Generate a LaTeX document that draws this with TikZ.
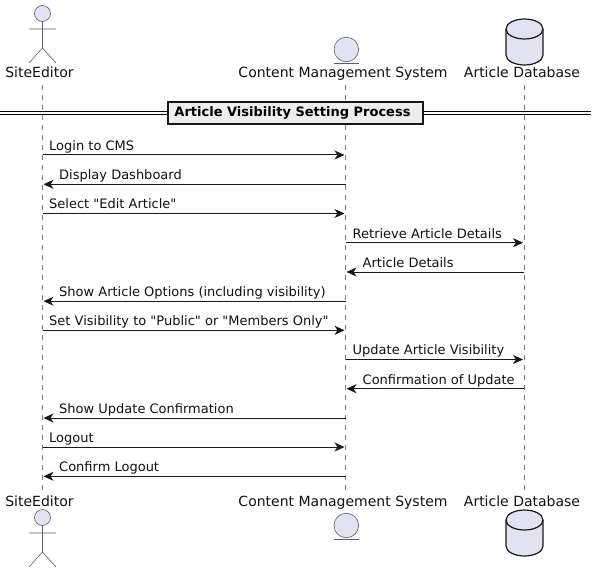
\documentclass[tikz,border=0pt]{standalone}
\usepackage{fontspec}
\setmainfont{DejaVu Sans}[Ligatures=TeXOff]
\usetikzlibrary{arrows.meta}
\definecolor{partfill}{HTML}{E2E2F0}
\definecolor{partline}{HTML}{181818}
\definecolor{lifeline}{HTML}{7A7A7A}
\definecolor{titlefill}{HTML}{EEEEEE}
\definecolor{txt}{HTML}{111111}
\tikzset{
  lbl/.style={inner sep=0pt,text=txt,font=\fontsize{13bp}{15bp}\selectfont},
  partlbl/.style={inner sep=0pt,text=txt,font=\fontsize{14bp}{16bp}\selectfont,anchor=base},
  msglbl/.style={lbl,anchor=base west},
  msg/.style={draw=partline,line width=1bp,-{Stealth[length=10bp,width=9bp,inset=3bp]},shorten >=1bp},
  life/.style={draw=lifeline,line width=.6bp,dash pattern=on 5bp off 5bp},
  thin part/.style={draw=partline!70!white,line width=.6bp,fill=partfill},
  dbpart/.style={draw=partline,line width=1.2bp,fill=partfill},
  titlebox/.style={draw=partline,line width=2bp,fill=titlefill,minimum width=255bp,minimum height=22.5bp,inner sep=0pt,text=black,font=\bfseries\fontsize{13bp}{15bp}\selectfont},
  dline/.style={draw=black,line width=1bp},
}
\newcommand{\actorfig}[2]{%
  \draw[thin part] (#1,#2+13.5) circle[radius=8];
  \draw[draw=partline!70!white,line width=.6bp] (#1,#2+21.5) -- (#1,#2+48) (#1-13.5,#2+29) -- (#1+13.5,#2+29)
    (#1-13.5,#2+63) -- (#1,#2+48) -- (#1+13.5,#2+63);}
\newcommand{\entityfig}[2]{%
  \draw[thin part] (#1,#2+49.5) circle[radius=12.3];
  \draw[draw=partline!70!white,line width=.6bp] (#1-12.5,#2+63) -- (#1+12.5,#2+63);}
\newcommand{\dbfig}[2]{%
  \draw[dbpart] (#1-18.5,#2+29) arc[start angle=180,end angle=360,x radius=18.5,y radius=10]
     -- (#1+18.5,#2+55) arc[start angle=0,end angle=180,x radius=18.5,y radius=10] -- cycle;
  \draw[dbpart,fill=none] (#1-18.5,#2+29) arc[start angle=180,end angle=0,x radius=18.5,y radius=10];}
\begin{document}
\begin{tikzpicture}[x=1bp,y=-1bp]
\useasboundingbox (0,0) rectangle (596,573);
\fill[white] (0,0) rectangle (596,573);
% lifelines
\coordinate (aTop) at (42.5,85); \coordinate (aBot) at (42.5,491);
\coordinate (cTop) at (345.5,85); \coordinate (cBot) at (345.5,491);
\coordinate (dTop) at (524,85); \coordinate (dBot) at (524,491);
\draw[life] (aTop) -- (aBot);
\draw[life] (cTop) -- (cBot);
\draw[life] (dTop) -- (dBot);
% participants
\actorfig{42.5}{0}
\actorfig{42.5}{504}
\entityfig{346.3}{0}
\entityfig{346.3}{476}
\dbfig{524.5}{0}
\dbfig{524.5}{491}
\node[partlbl] (aT) at (39.5,78) {SiteEditor};
\node[partlbl] (cT) at (343,78) {Content Management System};
\node[partlbl] (dT) at (522,78) {Article Database};
\node[partlbl] (aB) at (39.5,506) {SiteEditor};
\node[partlbl] (cB) at (343,506) {Content Management System};
\node[partlbl] (dB) at (522,506) {Article Database};
% divider
\coordinate (divL) at (0,112.8); \coordinate (divR) at (591,112.8);
\draw[dline] ([yshift=-1.5bp]divL) -- ([yshift=-1.5bp]divR);
\draw[dline] ([yshift=1.5bp]divL) -- ([yshift=1.5bp]divR);
\node[titlebox] (title) at (295,112.8) {Article Visibility Setting Process\kern5bp\relax};
% messages
\foreach \n/\y in {1/155,2/184.3,3/213.5,4/242.7,5/272,6/301.2,7/330.3,8/359.5,9/388.7,10/418,11/447,12/476.3}{
  \coordinate (a\n) at (42.5,\y);
  \coordinate (c\n) at (345.5,\y);
  \coordinate (d\n) at (524,\y);
}
\draw[msg] (a1) -- (c1);
\node[msglbl] (m1) at (49,150.4) {Login to CMS};
\draw[msg] (c2) -- (a2);
\node[msglbl] (m2) at (59,179.7) {Display Dashboard};
\draw[msg] (a3) -- (c3);
\node[msglbl] (m3) at (49,208.9) {Select "Edit Article"};
\draw[msg] (c4) -- (d4);
\node[msglbl] (m4) at (352.5,238.1) {Retrieve Article Details};
\draw[msg] (d5) -- (c5);
\node[msglbl] (m5) at (362.5,267.4) {Article Details};
\draw[msg] (c6) -- (a6);
\node[msglbl] (m6) at (59,296.6) {Show Article Options (including visibility)};
\draw[msg] (a7) -- (c7);
\node[msglbl] (m7) at (49,325.7) {Set Visibility to "Public" or "Members Only"};
\draw[msg] (c8) -- (d8);
\node[msglbl] (m8) at (352.5,354.9) {Update Article Visibility};
\draw[msg] (d9) -- (c9);
\node[msglbl] (m9) at (362.5,384.1) {Confirmation of Update};
\draw[msg] (c10) -- (a10);
\node[msglbl] (m10) at (59,413.4) {Show Update Confirmation};
\draw[msg] (a11) -- (c11);
\node[msglbl] (m11) at (49,442.4) {Logout};
\draw[msg] (c12) -- (a12);
\node[msglbl] (m12) at (59,471.7) {Confirm Logout};
\end{tikzpicture}
\end{document}
